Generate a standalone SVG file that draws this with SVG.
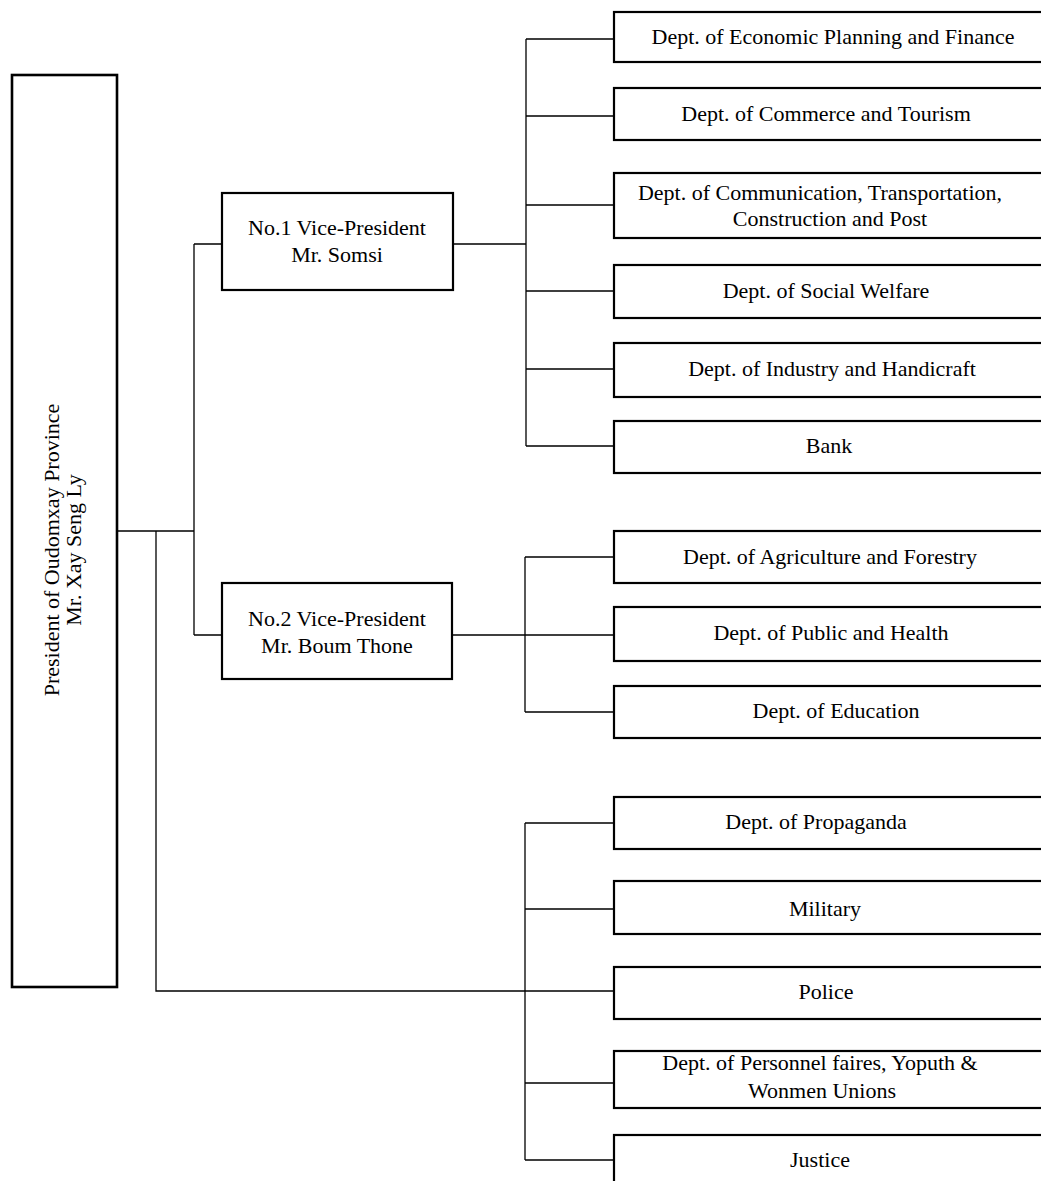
<svg xmlns="http://www.w3.org/2000/svg" width="1041" height="1181" viewBox="0 0 1041 1181">
<style>
.box{fill:#fff;stroke:#000;stroke-width:2.2}
.pbox{fill:#fff;stroke:#000;stroke-width:2.6}
.lnk{fill:none;stroke:#000;stroke-width:1.3}
text{font-family:"Liberation Serif","Times New Roman",serif;font-size:22px;fill:#000;text-anchor:middle}
</style>
<rect width="1041" height="1181" fill="#fff"/>
<g id="connectors">
<path class="lnk" d="M117 531H194M194 244V635M194 244H222M194 635H222"/>
<path class="lnk" d="M156 531V991H614"/>
<path class="lnk" d="M453 244H526M526 39V446M526 39H614M526 116H614M526 205H614M526 291H614M526 369H614M526 446H614"/>
<path class="lnk" d="M452 635H614M525 557V712M525 557H614M525 712H614"/>
<path class="lnk" d="M525 823V1160M525 823H614M525 909H614M525 1083H614M525 1160H614"/>
</g>
<g id="president">
<rect class="pbox" x="12" y="75" width="105" height="912"/>
<text transform="rotate(-90 59 550)" x="59" y="550">President of Oudomxay Province<tspan x="59" dy="22">Mr. Xay Seng Ly</tspan></text>
</g>
<g id="vp1">
<rect class="box" x="222" y="193" width="231" height="97"/>
<text x="337" y="235">No.1 Vice-President<tspan x="337" dy="27">Mr. Somsi</tspan></text>
</g>
<g id="vp2">
<rect class="box" x="222" y="583" width="230" height="96"/>
<text x="337" y="626">No.2 Vice-President<tspan x="337" dy="27">Mr. Boum Thone</tspan></text>
</g>
<g id="d1"><rect class="box" x="614" y="12" width="440" height="50"/><text x="833" y="44">Dept. of Economic Planning and Finance</text></g>
<g id="d2"><rect class="box" x="614" y="88" width="440" height="52"/><text x="826" y="121">Dept. of Commerce and Tourism</text></g>
<g id="d3"><rect class="box" x="614" y="173" width="440" height="65"/><text x="820" y="200">Dept. of Communication, Transportation,<tspan x="830" dy="26">Construction and Post</tspan></text></g>
<g id="d4"><rect class="box" x="614" y="265" width="440" height="53"/><text x="826" y="298">Dept. of Social Welfare</text></g>
<g id="d5"><rect class="box" x="614" y="343" width="440" height="54"/><text x="832" y="376">Dept. of Industry and Handicraft</text></g>
<g id="d6"><rect class="box" x="614" y="421" width="440" height="52"/><text x="829" y="453">Bank</text></g>
<g id="d7"><rect class="box" x="614" y="531" width="440" height="52"/><text x="830" y="564">Dept. of Agriculture and Forestry</text></g>
<g id="d8"><rect class="box" x="614" y="607" width="440" height="54"/><text x="831" y="640">Dept. of Public and Health</text></g>
<g id="d9"><rect class="box" x="614" y="686" width="440" height="52"/><text x="836" y="718">Dept. of Education</text></g>
<g id="d10"><rect class="box" x="614" y="797" width="440" height="52"/><text x="816" y="829">Dept. of Propaganda</text></g>
<g id="d11"><rect class="box" x="614" y="881" width="440" height="53"/><text x="825" y="916">Military</text></g>
<g id="d12"><rect class="box" x="614" y="967" width="440" height="52"/><text x="826" y="999">Police</text></g>
<g id="d13"><rect class="box" x="614" y="1051" width="440" height="57"/><text x="820" y="1070">Dept. of Personnel faires, Yoputh &amp;<tspan x="822" dy="28">Wonmen Unions</tspan></text></g>
<g id="d14"><rect class="box" x="614" y="1135" width="440" height="60"/><text x="820" y="1167">Justice</text></g>
</svg>
